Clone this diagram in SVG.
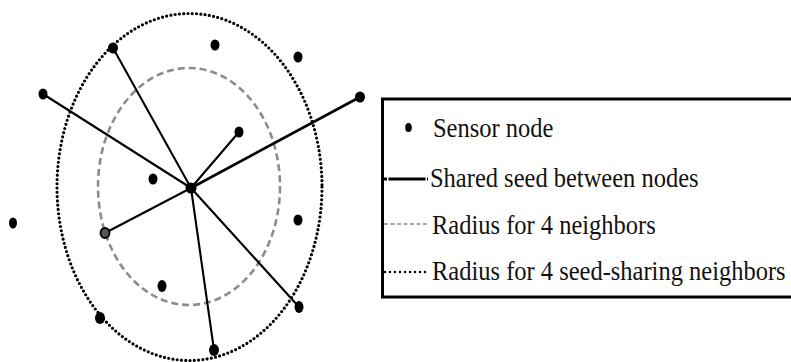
<svg xmlns="http://www.w3.org/2000/svg" width="791" height="362" viewBox="0 0 791 362">
<style>
.node{fill:#000}
.edge{stroke:#000;stroke-width:2.1;fill:none;stroke-linecap:round}
.outer{fill:none;stroke:#000;stroke-width:3.2;stroke-dasharray:0 4.3;stroke-linecap:round}
.inner{fill:none;stroke:#8c8c8c;stroke-width:2.6;stroke-dasharray:7 4}
.lbl{font-size:24.5px;fill:#111}
</style>
<rect width="791" height="362" fill="#fff"/>
<g id="ranges">
<ellipse class="outer" cx="189.5" cy="187" rx="132.5" ry="173.5"/>
<ellipse class="inner" cx="189" cy="186.5" rx="91" ry="118.5"/>
</g>
<g id="connectors">
<line class="edge" x1="191" y1="188" x2="113" y2="48"/>
<line class="edge" x1="191" y1="188" x2="43" y2="94"/>
<line class="edge" x1="191" y1="188" x2="360" y2="97" style="stroke-width:2.7"/>
<line class="edge" x1="191" y1="188" x2="239" y2="132"/>
<line class="edge" x1="191" y1="188" x2="105" y2="233"/>
<line class="edge" x1="191" y1="188" x2="299" y2="307"/>
<line class="edge" x1="191" y1="188" x2="214" y2="350"/>
</g>
<g id="n-center"><ellipse class="node" cx="191" cy="188" rx="5.5" ry="5.5"/></g>
<g id="n1"><ellipse class="node" cx="113" cy="48" rx="5" ry="5.5"/></g>
<g id="n2"><ellipse class="node" cx="215" cy="45" rx="4.5" ry="5.5"/></g>
<g id="n3"><ellipse class="node" cx="298" cy="57" rx="4.5" ry="5.5"/></g>
<g id="n4"><ellipse class="node" cx="43" cy="94" rx="4.5" ry="5.5"/></g>
<g id="n5"><ellipse class="node" cx="360" cy="97" rx="5" ry="5.5"/></g>
<g id="n6"><ellipse class="node" cx="239" cy="132" rx="4.5" ry="5.5"/></g>
<g id="n7"><ellipse class="node" cx="153" cy="179" rx="4.5" ry="5.5"/></g>
<g id="n8"><ellipse class="node" cx="13" cy="223" rx="4" ry="5.5"/></g>
<g id="n9"><ellipse cx="105" cy="233" rx="4.5" ry="5" fill="#555" stroke="#000" stroke-width="1.8"/></g>
<g id="n10"><ellipse class="node" cx="298" cy="220" rx="4.5" ry="5.5"/></g>
<g id="n11"><ellipse class="node" cx="162" cy="286" rx="4.5" ry="6"/></g>
<g id="n12"><ellipse class="node" cx="299" cy="307" rx="4.5" ry="6"/></g>
<g id="n13"><ellipse class="node" cx="100" cy="318" rx="5" ry="6"/></g>
<g id="n14"><ellipse class="node" cx="214" cy="350" rx="5" ry="6"/></g>
<g id="legend" font-family="'Liberation Serif','DejaVu Serif',serif">
<rect x="382.5" y="99" width="420" height="198" fill="none" stroke="#000" stroke-width="3"/>
<ellipse cx="408.5" cy="127.5" rx="3.3" ry="4.5" fill="#000"/>
<line x1="384" y1="179" x2="428" y2="179" stroke="#000" stroke-width="3.2" stroke-dasharray="3 1.5 37 1.5 3"/>
<line x1="384" y1="224" x2="428" y2="224" stroke="#888" stroke-width="1.3" stroke-dasharray="4 2.5"/>
<line x1="385" y1="272" x2="428" y2="272" stroke="#000" stroke-width="2.4" stroke-dasharray="0 5" stroke-linecap="round"/>
<g transform="translate(433,137) scale(1,1.13)"><text class="lbl" font-family="'Liberation Serif',serif">Sensor node</text></g>
<g transform="translate(430,187) scale(1,1.13)"><text class="lbl" font-family="'Liberation Serif',serif">Shared seed between nodes</text></g>
<g transform="translate(432,234) scale(1,1.13)"><text class="lbl" font-family="'Liberation Serif',serif">Radius for 4 neighbors</text></g>
<g transform="translate(432,280) scale(1,1.13)"><text class="lbl" font-family="'Liberation Serif',serif">Radius for 4 seed-sharing neighbors</text></g>
</g>
</svg>
